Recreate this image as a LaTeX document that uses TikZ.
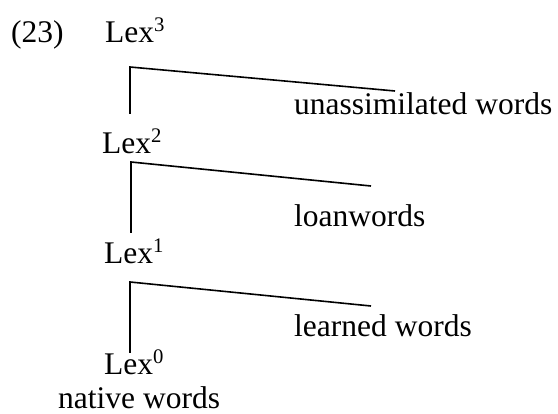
\documentclass[tikz,border=0pt]{standalone}
\usepackage{fontspec}
\setmainfont{Liberation Serif}
% raised index digit on a stratum label
\newcommand{\lexidx}[1]{\raisebox{11pt}{\fontsize{20.7}{21}\selectfont #1}}
\begin{document}
\begin{tikzpicture}[x=1pt,y=-1pt,
  lbl/.style={anchor=base west,inner sep=0pt,font=\fontsize{31.5}{36}\selectfont},
  branch/.style={line width=1.6pt,line join=miter}]
  \useasboundingbox (0,0) rectangle (558,414);

  % example number and the four strata
  \node[lbl] (num)  at (11,43)  {(23)};
  \node[lbl] (lex3) at (105,43)  {Lex\lexidx{3}};
  \node[lbl] (lex2) at (102,154) {Lex\lexidx{2}};
  \node[lbl] (lex1) at (104,264) {Lex\lexidx{1}};
  \node[lbl] (lex0) at (104,375) {Lex\lexidx{0}};

  % vocabulary classes
  \node[lbl] (unas)  at (294,115) {unassimilated words};
  \node[lbl] (loan)  at (294,227) {loanwords};
  \node[lbl] (learn) at (294,337) {learned words};
  \node[lbl,text depth=0pt] (nat) at (58,409) {native words};

  % branch points
  \coordinate (c3) at (130,67);  \coordinate (e3) at (395,91);  \coordinate (b3) at (130,114);
  \coordinate (c2) at (131,162); \coordinate (e2) at (371,186); \coordinate (b2) at (131,233);
  \coordinate (c1) at (130,282); \coordinate (e1) at (371,306); \coordinate (b1) at (130,353);

  \draw[branch] (b3) -- (c3) -- (e3);
  \draw[branch] (b2) -- (c2) -- (e2);
  \draw[branch] (b1) -- (c1) -- (e1);
\end{tikzpicture}
\end{document}
